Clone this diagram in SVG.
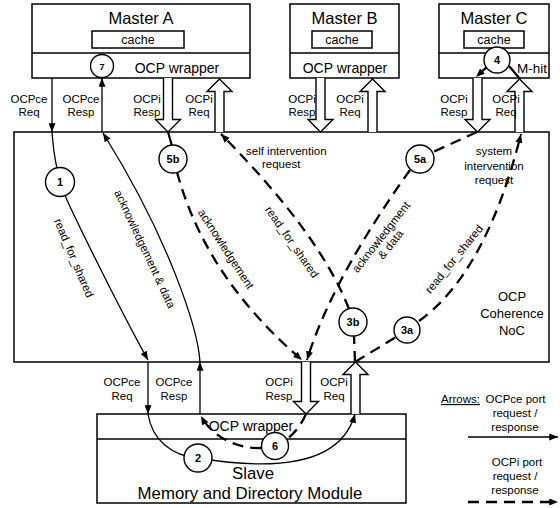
<svg xmlns="http://www.w3.org/2000/svg" width="560" height="508" viewBox="0 0 560 508">
  <style>
    text { font-family: "Liberation Sans", Arial, Helvetica, sans-serif; fill: #000; }
    .box { fill: #fff; stroke: #000; stroke-width: 1.5; }
    .blk { fill: #fff; stroke: #000; stroke-width: 1.4; stroke-linejoin: miter; }
    .ln { fill: none; stroke: #000; stroke-width: 1.3; }
    .dl { fill: none; stroke: #000; stroke-width: 2.3; stroke-dasharray: 11 7; }
    .cir { fill: #fff; stroke: #000; stroke-width: 1.4; }
    .t { font-size: 11.5px; text-anchor: middle; }
    .n { font-size: 11px; font-weight: bold; text-anchor: middle; }
    .big { font-size: 16.5px; text-anchor: middle; }
    .mid { font-size: 14px; text-anchor: middle; }
    .sm { font-size: 12.5px; text-anchor: middle; }
  </style>
  <defs>
    <marker id="ah" viewBox="0 0 10 8" refX="10" refY="4" markerWidth="9" markerHeight="7" markerUnits="userSpaceOnUse" orient="auto">
      <path d="M0,0 L10,4 L0,8 z" fill="#000"/>
    </marker>
  </defs>

  <!-- interconnect body -->
  <g id="noc">
    <rect class="box" x="14" y="132" width="535" height="230"/>
    <text class="sm" x="512" y="301" style="font-size:13px">OCP</text>
    <text class="sm" x="512" y="318" style="font-size:13px">Coherence</text>
    <text class="sm" x="512" y="335" style="font-size:13px">NoC</text>
  </g>

  <!-- masters -->
  <g id="masterA">
    <rect class="box" x="32" y="4" width="218" height="74"/>
    <line class="box" x1="32" y1="53" x2="250" y2="53"/>
    <rect class="box" x="92" y="31" width="92" height="17"/>
    <text class="big" x="141" y="24">Master A</text>
    <text class="sm" x="138" y="44">cache</text>
    <text class="mid" x="177" y="73">OCP wrapper</text>
  </g>
  <g id="masterB">
    <rect class="box" x="290" y="4" width="109" height="74"/>
    <line class="box" x1="290" y1="53" x2="399" y2="53"/>
    <rect class="box" x="312" y="31" width="60" height="17"/>
    <text class="big" x="344.5" y="24">Master B</text>
    <text class="sm" x="342" y="44">cache</text>
    <text class="mid" x="345" y="73">OCP wrapper</text>
  </g>
  <g id="masterC">
    <rect class="box" x="439" y="4" width="110" height="74"/>
    <line class="box" x1="439" y1="53" x2="549" y2="53"/>
    <rect class="box" x="464" y="31" width="60" height="17"/>
    <text class="big" x="494" y="24">Master C</text>
    <text class="sm" x="494" y="44">cache</text>
    <text x="517" y="73" style="font-size:13.5px">M-hit</text>
  </g>

  <!-- slave -->
  <g id="slave">
    <rect class="box" x="97" y="414" width="309" height="89"/>
    <line class="box" x1="97" y1="439" x2="406" y2="439"/>
    <text class="mid" x="251" y="431">OCP wrapper</text>
    <text class="big" x="253" y="479" style="font-size:16.8px">Slave</text>
    <text class="big" x="250" y="499" style="font-size:16.8px">Memory and Directory Module</text>
  </g>

  <!-- connectors -->
  <g id="connectors">
    <!-- OCPi block ports -->
    <path class="blk" d="M163.5,78 V119.5 H155.5 L168,132 L180.5,119.5 H172.5 V78"/>
    <path class="blk" d="M215,132 V91.5 H207 L219.5,79 L232,91.5 H224 V132"/>
    <path class="blk" d="M316,78 V119.5 H308 L320.5,132 L333,119.5 H325 V78"/>
    <path class="blk" d="M368,132 V91.5 H360 L372.5,79 L385,91.5 H377 V132"/>
    <path class="blk" d="M473,78 V119.5 H465 L477.5,132 L490,119.5 H482 V78"/>
    <path class="blk" d="M515,132 V91.5 H507 L519.5,79 L532,91.5 H524 V132"/>
    <path class="blk" d="M301.5,362 V401.5 H293.5 L306,414 L318.5,401.5 H310.5 V362"/>
    <path class="blk" d="M351,414 V374.5 H343 L355.5,362 L368,374.5 H360 V414"/>

    <!-- OCPce ports -->
    <path class="ln" d="M52,78 V132" marker-end="url(#ah)"/>
    <path class="ln" d="M102,132 V78" marker-end="url(#ah)"/>
    <path class="ln" d="M148,362 V414" marker-end="url(#ah)"/>
    <path class="ln" d="M200,414 V362" marker-end="url(#ah)"/>

    <!-- read_for_shared (1) -->
    <path class="ln" d="M52,132 C54,160 58,180 67,200 S120,310 148,360" marker-end="url(#ah)"/>
    <!-- acknowledgement & data -->
    <path class="ln" d="M200,362 C198,330 170,240 103,133" marker-end="url(#ah)"/>
    <!-- inside slave: 2 -->
    <path class="ln" d="M148,414 C152,440 172,456 198,458 C270,470 340,468 355,414" marker-end="url(#ah)"/>
    <!-- inside slave: 6 -->
    <path class="dl" d="M306,414 Q298,432 284,441"/>
    <path class="dl" d="M261,448 C245,449 215,442 201,416" marker-end="url(#ah)"/>

    <!-- 5b acknowledgement -->
    <line x1="168" y1="132" x2="172" y2="146" stroke="#000" stroke-width="2.2"/>
    <path class="dl" d="M177,172 C190,220 220,290 302,360" marker-end="url(#ah)"/>
    <!-- 5a acknowledgment & data -->
    <path class="dl" d="M477,132 L433,152"/>
    <path class="dl" d="M410,170 C385,205 330,285 307,360" marker-end="url(#ah)"/>
    <!-- 4 M-hit -->
    <path class="dl" d="M488,66 L476,77" marker-end="url(#ah)"/>
    <line x1="509" y1="66" x2="520" y2="79" stroke="#000" stroke-width="2.2"/>
    <!-- 3a system intervention -->
    <path class="dl" d="M355,362 L396,337"/>
    <path class="dl" d="M419,321 Q486,273 521,134" marker-end="url(#ah)"/>
    <!-- 3b self intervention -->
    <path class="dl" d="M355,362 L354,336"/>
    <path class="dl" d="M349,309 Q320,234 221,134" marker-end="url(#ah)"/>

    <!-- port labels -->
    <text class="t" x="29" y="103">OCPce</text><text class="t" x="29" y="116">Req</text>
    <text class="t" x="81" y="103">OCPce</text><text class="t" x="81" y="116">Resp</text>
    <text class="t" x="147" y="103">OCPi</text><text class="t" x="147" y="116">Resp</text>
    <text class="t" x="199" y="103">OCPi</text><text class="t" x="199" y="116">Req</text>
    <text class="t" x="302" y="103">OCPi</text><text class="t" x="302" y="116">Resp</text>
    <text class="t" x="350" y="103">OCPi</text><text class="t" x="350" y="116">Req</text>
    <text class="t" x="454" y="103">OCPi</text><text class="t" x="454" y="116">Resp</text>
    <text class="t" x="506" y="103">OCPi</text><text class="t" x="506" y="116">Req</text>
    <text class="t" x="122" y="386">OCPce</text><text class="t" x="122" y="400">Req</text>
    <text class="t" x="174" y="386">OCPce</text><text class="t" x="174" y="400">Resp</text>
    <text class="t" x="279" y="386">OCPi</text><text class="t" x="279" y="400">Resp</text>
    <text class="t" x="334" y="386">OCPi</text><text class="t" x="334" y="400">Req</text>

    <!-- path labels -->
    <text class="t" transform="translate(74 258) rotate(67)" y="4">read_for_shared</text>
    <text class="t" transform="translate(145 249) rotate(65)" y="4">acknowledgement &amp; data</text>
    <text class="t" transform="translate(226 249) rotate(57)" y="4">acknowledgement</text>
    <text class="t" transform="translate(292 242) rotate(55)" y="4">read_for_shared</text>
    <g transform="translate(381 237) rotate(-52)">
      <text class="t" y="4">acknowledgment</text>
      <text class="t" y="16">&amp; data</text>
    </g>
    <text class="t" transform="translate(454 259) rotate(-51)" y="4">read_for_shared</text>
    <text x="246" y="155" style="font-size:11.5px">self  intervention</text>
    <text x="262" y="168" style="font-size:11.5px">request</text>
    <text class="t" x="494" y="155">system</text>
    <text class="t" x="494" y="169.5">intervention</text>
    <text class="t" x="494" y="184">request</text>
  </g>

  <!-- step markers -->
  <g id="step7"><circle class="cir" cx="102" cy="66" r="11.5"/><text class="n" x="102" y="69.5" style="font-size:9px">7</text></g>
  <g id="step1"><circle class="cir" cx="60" cy="182" r="14.5"/><text class="n" x="60" y="186">1</text></g>
  <g id="step5b"><circle class="cir" cx="173" cy="159" r="14"/><text class="n" x="173" y="163">5b</text></g>
  <g id="step5a"><circle class="cir" cx="420" cy="159" r="14"/><text class="n" x="420" y="163">5a</text></g>
  <g id="step4"><circle class="cir" cx="497" cy="60" r="13"/><text class="n" x="497" y="64">4</text></g>
  <g id="step3b"><circle class="cir" cx="353" cy="322" r="14"/><text class="n" x="353" y="326">3b</text></g>
  <g id="step3a"><circle class="cir" cx="407" cy="330" r="13"/><text class="n" x="407" y="334">3a</text></g>
  <g id="step2"><circle class="cir" cx="198" cy="458" r="14"/><text class="n" x="198" y="462">2</text></g>
  <g id="step6"><circle class="cir" cx="275" cy="446" r="13.5"/><text class="n" x="275" y="450">6</text></g>

  <!-- legend -->
  <g id="legend">
    <text x="441" y="403" style="font-size:11.5px; text-decoration:underline">Arrows:</text>
    <text class="t" x="515.5" y="403">OCPce port</text>
    <text class="t" x="515" y="417">request /</text>
    <text class="t" x="515" y="431">response</text>
    <path class="ln" d="M468,437 H558" marker-end="url(#ah)"/>
    <text class="t" x="517" y="466">OCPi port</text>
    <text class="t" x="515" y="480">request /</text>
    <text class="t" x="515" y="494">response</text>
    <path class="dl" d="M468,502 H558" marker-end="url(#ah)"/>
  </g>
</svg>
